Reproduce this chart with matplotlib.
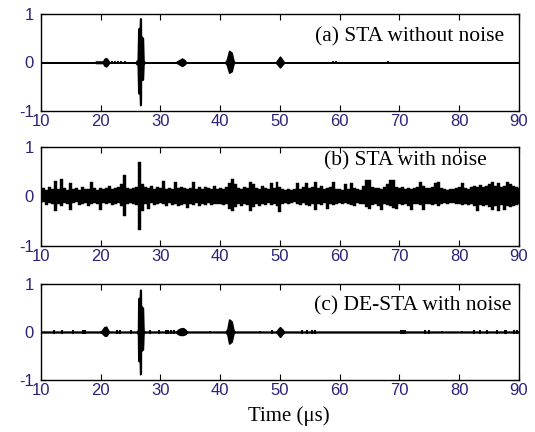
import numpy as np
import matplotlib.pyplot as plt

plt.rcParams['font.family'] = ['Liberation Sans', 'DejaVu Sans']
plt.rcParams['axes.unicode_minus'] = False

# (a) STA without noise: envelope of the trace (time in us, upper, lower)
t_a = [10, 19.0, 19.2, 20.4, 20.6, 20.9, 21.2, 21.4, 25.8, 26.0, 26.2, 26.3, 26.55, 26.6, 26.7,
       26.72, 27.05, 27.15, 27.4, 32.5, 32.8, 33.2, 33.6, 34.0, 34.3, 40.8, 41.1, 41.5, 41.9,
       42.2, 42.4, 49.3, 49.6, 50.0, 50.4, 50.7, 90]
hi_a = [0, 0, 0.02, 0.02, 0.07, 0.09, 0.05, 0, 0, 0.03, 0.05, 0.7, 0.72, 0.91, 0.9,
        0.55, 0.5, 0.04, 0, 0, 0.02, 0.05, 0.08, 0.05, 0, 0, 0.05, 0.24, 0.2,
        0.04, 0, 0, 0.05, 0.12, 0.05, 0, 0]
lo_a = [0, 0, -0.01, -0.01, -0.06, -0.08, -0.04, 0, 0, -0.03, -0.05, -0.63, -0.65, -0.88, -0.85,
        -0.36, -0.35, -0.03, 0, 0, -0.01, -0.04, -0.07, -0.04, 0, 0, -0.04, -0.21, -0.18,
        -0.03, 0, 0, -0.04, -0.1, -0.04, 0, 0]
blip_a_t = [21.9, 22.4, 22.9, 23.4, 24.1, 25.0, 28.2, 34.6, 35.0, 42.7, 58.3, 58.8, 59.4,
            59.9, 67.5, 68.1]
blip_a_amp = [0.025, 0.025, 0.025, 0.025, 0.025, 0.02, 0.02, 0.02, 0.02, 0.02, 0.02, 0.025,
              0.025, 0.02, 0.02, 0.025]

# (b) STA with noise: envelope sampled every 0.5 us from 10 to 90 us
hi_b = [0.15, 0.18, 0.14, 0.2, 0.16, 0.31, 0.15, 0.35, 0.17, 0.14,
        0.28, 0.15, 0.18, 0.14, 0.2, 0.16, 0.15, 0.3, 0.17, 0.14,
        0.18, 0.15, 0.17, 0.22, 0.15, 0.18, 0.2, 0.26, 0.43, 0.17,
        0.15, 0.18, 0.2, 0.7, 0.25, 0.2, 0.17, 0.22, 0.15, 0.2,
        0.17, 0.31, 0.15, 0.18, 0.16, 0.3, 0.18, 0.2, 0.17, 0.15,
        0.18, 0.3, 0.16, 0.19, 0.15, 0.2, 0.17, 0.16, 0.22, 0.15,
        0.17, 0.15, 0.2, 0.28, 0.35, 0.25, 0.18, 0.16, 0.2, 0.18,
        0.3, 0.26, 0.18, 0.16, 0.21, 0.17, 0.15, 0.27, 0.17, 0.3,
        0.2, 0.16, 0.14, 0.16, 0.13, 0.15, 0.27, 0.16, 0.2, 0.28,
        0.18, 0.2, 0.3, 0.17, 0.22, 0.16, 0.17, 0.19, 0.29, 0.16,
        0.15, 0.14, 0.25, 0.16, 0.28, 0.18, 0.16, 0.14, 0.22, 0.34,
        0.33, 0.2, 0.17, 0.18, 0.16, 0.2, 0.25, 0.34, 0.33, 0.2,
        0.17, 0.2, 0.16, 0.18, 0.15, 0.17, 0.2, 0.3, 0.22, 0.17,
        0.18, 0.2, 0.28, 0.3, 0.17, 0.15, 0.14, 0.16, 0.15, 0.17,
        0.2, 0.27, 0.18, 0.16, 0.2, 0.22, 0.2, 0.24, 0.2, 0.22,
        0.26, 0.3, 0.22, 0.28, 0.2, 0.22, 0.3, 0.26, 0.22, 0.2,
        0.18]
lo_b = [-0.14, -0.12, -0.18, -0.13, -0.15, -0.3, -0.16, -0.2, -0.14, -0.15,
        -0.27, -0.14, -0.12, -0.18, -0.15, -0.13, -0.2, -0.15, -0.14, -0.16,
        -0.27, -0.13, -0.16, -0.14, -0.18, -0.15, -0.14, -0.2, -0.4, -0.15,
        -0.14, -0.16, -0.18, -0.67, -0.3, -0.15, -0.26, -0.14, -0.17, -0.15,
        -0.14, -0.16, -0.2, -0.14, -0.17, -0.15, -0.2, -0.18, -0.16, -0.24,
        -0.15, -0.17, -0.14, -0.2, -0.15, -0.17, -0.14, -0.18, -0.15, -0.16,
        -0.15, -0.18, -0.16, -0.25, -0.3, -0.22, -0.16, -0.2, -0.15, -0.17,
        -0.3, -0.22, -0.16, -0.2, -0.15, -0.18, -0.14, -0.17, -0.15, -0.2,
        -0.31, -0.16, -0.13, -0.15, -0.14, -0.12, -0.15, -0.17, -0.14, -0.18,
        -0.2, -0.16, -0.28, -0.15, -0.18, -0.14, -0.25, -0.15, -0.17, -0.15,
        -0.14, -0.16, -0.13, -0.15, -0.17, -0.2, -0.14, -0.16, -0.15, -0.22,
        -0.26, -0.18, -0.15, -0.2, -0.28, -0.16, -0.18, -0.2, -0.24, -0.26,
        -0.15, -0.17, -0.15, -0.2, -0.27, -0.15, -0.16, -0.18, -0.28, -0.16,
        -0.15, -0.17, -0.16, -0.2, -0.15, -0.14, -0.15, -0.13, -0.14, -0.16,
        -0.15, -0.17, -0.15, -0.18, -0.16, -0.2, -0.3, -0.18, -0.2, -0.17,
        -0.22, -0.28, -0.2, -0.3, -0.18, -0.27, -0.2, -0.22, -0.2, -0.18,
        -0.16]

# (c) DE-STA with noise
t_c = [10, 19.9, 20.2, 20.6, 20.9, 21.2, 21.4, 26.1, 26.25, 26.3, 26.55, 26.6, 26.7, 26.72,
       27.05, 27.15, 27.3, 32.6, 32.9, 33.3, 33.8, 34.2, 34.4, 40.9, 41.2, 41.5, 41.9, 42.2,
       42.4, 49.4, 49.7, 50.0, 50.4, 50.7, 90]
hi_c = [0, 0, 0.03, 0.1, 0.11, 0.04, 0, 0, 0.05, 0.7, 0.72, 0.88, 0.87, 0.55,
        0.5, 0.03, 0, 0, 0.04, 0.07, 0.08, 0.04, 0, 0, 0.06, 0.26, 0.22, 0.04,
        0, 0, 0.06, 0.1, 0.05, 0, 0]
lo_c = [0, 0, -0.02, -0.07, -0.08, -0.03, 0, 0, -0.05, -0.6, -0.62, -0.88, -0.86, -0.4,
        -0.36, -0.03, 0, 0, -0.04, -0.06, -0.06, -0.04, 0, 0, -0.05, -0.24, -0.2, -0.03,
        0, 0, -0.05, -0.1, -0.04, 0, 0]
blip_c_t = [12.2, 13.6, 15.4, 17.0, 17.4, 22.8, 23.2, 25.0, 28.2, 29.8, 30.9, 31.3, 31.7,
            32.2, 38.3, 46.7, 48.6, 53.6, 54.5, 55.3, 55.8, 70.2, 70.6, 71.0, 74.3, 75.0,
            77.1, 80.4, 82.4, 83.5, 84.6, 86.3, 87.7, 87.9, 89.1, 89.6]
blip_c_amp = [0.04, 0.035, 0.04, 0.04, 0.04, 0.04, 0.04, 0.035, 0.035, 0.035, 0.035, 0.035,
              0.035, 0.04, 0.03, 0.03, 0.035, 0.035, 0.035, 0.04, 0.04, 0.04, 0.04,
              0.04, 0.04, 0.035, 0.03, 0.03, 0.035, 0.035, 0.035, 0.035, 0.04, 0.04,
              0.04, 0.04]

labels = ['(a) STA without noise', '(b) STA with noise', '(c) DE-STA with noise']
xticks = [10, 20, 30, 40, 50, 60, 70, 80, 90]
yticks = [-1, 0, 1]

fig = plt.figure(figsize=(5.35, 4.32), dpi=100)
boxes = [[0.0766, 0.7431, 0.8935, 0.2245],
         [0.0766, 0.4306, 0.8935, 0.2292],
         [0.0766, 0.1204, 0.8935, 0.2222]]
axes = [fig.add_axes(b) for b in boxes]

t_b = np.linspace(10, 90, len(hi_b))

axes[0].fill_between(t_a, lo_a, hi_a, color='black', lw=1.2)
axes[0].vlines(blip_a_t, [-a for a in blip_a_amp], blip_a_amp, color='black', lw=1.3)

axes[1].fill_between(t_b, lo_b, hi_b, color='black', lw=0.3, step='mid')

axes[2].fill_between(t_c, lo_c, hi_c, color='black', lw=1.2)
axes[2].vlines(blip_c_t, [-a for a in blip_c_amp], blip_c_amp, color='black', lw=1.5)

text_pos = [(0.969, 0.763), (0.933, 0.859), (0.985, 0.77)]
tick_color = '#2a2278'
for ax, lab, (tx, ty) in zip(axes, labels, text_pos):
    ax.set_xlim(10, 90)
    ax.set_ylim(-1, 1)
    ax.set_xticks(xticks)
    ax.set_yticks(yticks)
    ax.tick_params(direction='in', length=4, width=0.8, top=True, right=True,
                   labelsize=12, labelcolor=tick_color, pad=2.5)
    ax.tick_params(axis='y', pad=5)
    for s in ax.spines.values():
        s.set_linewidth(1.0)
    ax.text(tx, ty, lab, transform=ax.transAxes, ha='right', va='center',
            fontsize=15.5, family='Liberation Serif')

fig.text(289 / 535, 1 - 416 / 432, 'Time (μs)', ha='center', va='center',
         fontsize=15, family='Liberation Serif')

fig.savefig('out.png', dpi=100)
